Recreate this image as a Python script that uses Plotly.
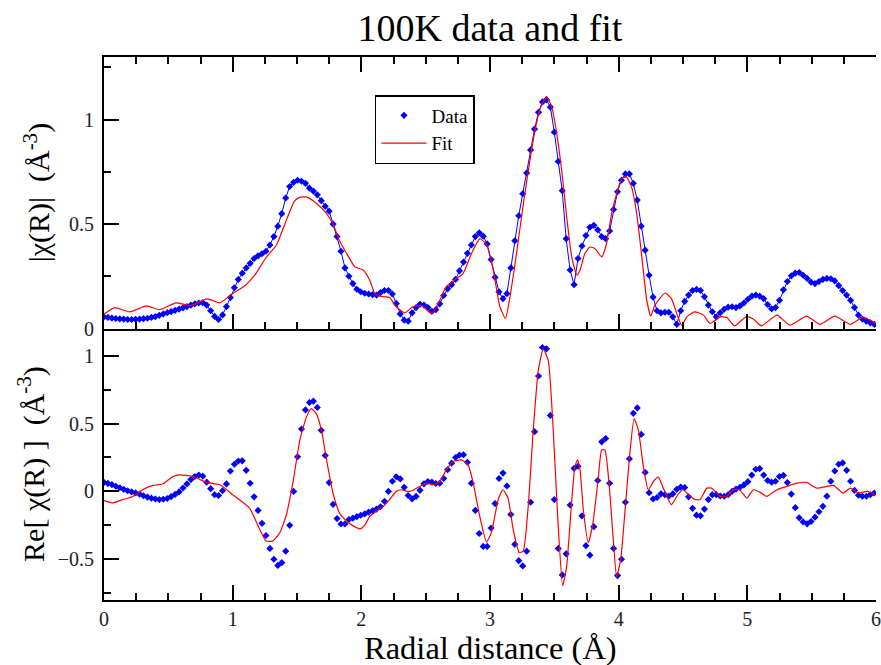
import plotly.graph_objects as go

# ---------------- data ----------------
R_STEP = 0.0307  # radial grid step (Å)

data_mag = [
    0.055, 0.053, 0.050, 0.048, 0.046, 0.045, 0.043, 0.043, 0.044, 0.045,
    0.047, 0.049, 0.053, 0.057, 0.063, 0.070, 0.076, 0.081, 0.087, 0.093,
    0.099, 0.105, 0.112, 0.118, 0.122, 0.124, 0.112, 0.085, 0.058, 0.043,
    0.065, 0.105, 0.148, 0.195, 0.235, 0.265, 0.290, 0.312, 0.335, 0.348,
    0.358, 0.370, 0.400, 0.440, 0.490, 0.550, 0.625, 0.680, 0.700, 0.710,
    0.705, 0.695, 0.672, 0.658, 0.640, 0.612, 0.585, 0.562, 0.500, 0.440,
    0.370, 0.290, 0.250, 0.215, 0.188, 0.176, 0.169, 0.165, 0.162, 0.160,
    0.172, 0.182, 0.182, 0.165, 0.120, 0.070, 0.040, 0.035, 0.075, 0.100,
    0.116, 0.112, 0.100, 0.082, 0.090, 0.118, 0.158, 0.190, 0.210, 0.235,
    0.276, 0.318, 0.360, 0.400, 0.440, 0.458, 0.442, 0.405, 0.330, 0.245,
    0.175, 0.143, 0.167, 0.290, 0.420, 0.540, 0.645, 0.745, 0.855, 0.955,
    1.035, 1.085, 1.095, 1.060, 0.940, 0.800, 0.660, 0.430, 0.280, 0.210,
    0.335, 0.395, 0.445, 0.485, 0.494, 0.472, 0.440, 0.430, 0.467, 0.570,
    0.655, 0.710, 0.740, 0.740, 0.695, 0.615, 0.490, 0.375, 0.255, 0.150,
    0.085, 0.075, 0.078, 0.078, 0.056, 0.020, 0.085, 0.130, 0.160, 0.182,
    0.187, 0.182, 0.152, 0.112, 0.080, 0.056, 0.075, 0.092, 0.102, 0.104,
    0.100, 0.108, 0.122, 0.140, 0.155, 0.160, 0.155, 0.143, 0.115, 0.094,
    0.100, 0.135, 0.185, 0.225, 0.252, 0.265, 0.268, 0.255, 0.240, 0.222,
    0.215, 0.225, 0.235, 0.240, 0.238, 0.228, 0.205, 0.182, 0.160, 0.135,
    0.100, 0.064, 0.045, 0.035, 0.027, 0.020,
]

data_re = [
    0.066, 0.059, 0.050, 0.038, 0.027, 0.015, 0.005, -0.004, -0.011, -0.020,
    -0.032, -0.042, -0.050, -0.056, -0.060, -0.058, -0.052, -0.038, -0.022, -0.004,
    0.025, 0.055, 0.087, 0.110, 0.120, 0.112, 0.068, 0.020, -0.025, -0.030,
    0.005, 0.055, 0.150, 0.200, 0.224, 0.225, 0.155, 0.060, -0.040, -0.140,
    -0.235, -0.325, -0.420, -0.500, -0.545, -0.525, -0.440, -0.250, 0.000, 0.255,
    0.460, 0.600, 0.655, 0.665, 0.618, 0.450, 0.265, 0.065, -0.095, -0.200,
    -0.240, -0.240, -0.207, -0.197, -0.186, -0.176, -0.166, -0.153, -0.142, -0.130,
    -0.113, -0.073, 0.000, 0.075, 0.108, 0.092, 0.030, -0.030, -0.055, -0.037,
    0.008, 0.056, 0.073, 0.068, 0.058, 0.060, 0.095, 0.160, 0.208, 0.250,
    0.268, 0.270, 0.215, 0.060, -0.140, -0.310, -0.405, -0.405, -0.270, -0.090,
    0.095, 0.135, 0.040, -0.170, -0.390, -0.510, -0.549, -0.440, -0.080, 0.440,
    0.850, 1.060, 1.050, 0.560, -0.060, -0.420, -0.615, -0.460, -0.100, 0.170,
    0.185, -0.180, -0.400, -0.470, -0.260, 0.080, 0.365, 0.390, 0.060, -0.420,
    -0.620, -0.500, -0.080, 0.240, 0.575, 0.615, 0.420, 0.140, -0.010, -0.056,
    -0.045, -0.018, -0.024, -0.035, -0.018, 0.015, 0.032, 0.028, -0.040, -0.125,
    -0.175, -0.180, -0.130, -0.060, -0.024, -0.024, -0.034, -0.036, -0.025, 0.000,
    0.017, 0.030, 0.048, 0.072, 0.120, 0.163, 0.168, 0.120, 0.080, 0.068,
    0.075, 0.110, 0.118, 0.065, -0.020, -0.120, -0.195, -0.225, -0.239, -0.222,
    -0.190, -0.150, -0.110, -0.035, 0.075, 0.150, 0.200, 0.210, 0.155, 0.075,
    0.008, -0.028, -0.036, -0.036, -0.024, -0.012,
]

r_data = [round(i * R_STEP, 4) for i in range(len(data_mag))]

fit_mag_r = [
    0.000, 0.083, 0.200, 0.330, 0.430, 0.560, 0.670, 0.800, 0.900, 1.000,
    1.100, 1.180, 1.260, 1.340, 1.418, 1.480, 1.520, 1.574, 1.650, 1.730,
    1.780, 1.830, 1.885, 1.950, 2.015, 2.066, 2.105, 2.144, 2.220, 2.270,
    2.338, 2.400, 2.468, 2.546, 2.610, 2.660, 2.727, 2.790, 2.857, 2.922,
    2.974, 3.025, 3.077, 3.120, 3.155, 3.206, 3.260, 3.310, 3.360, 3.400,
    3.440, 3.480, 3.517, 3.557, 3.596, 3.635, 3.675, 3.700, 3.738, 3.777,
    3.815, 3.868, 3.906, 3.945, 3.984, 4.024, 4.060, 4.100, 4.140, 4.180,
    4.218, 4.250, 4.280, 4.360, 4.410, 4.460, 4.490, 4.530, 4.590, 4.660,
    4.710, 4.790, 4.840, 4.900, 4.990, 5.040, 5.110, 5.230, 5.330, 5.460,
    5.565, 5.680, 5.800, 5.900, 6.000,
]
fit_mag = [
    0.069, 0.100, 0.080, 0.108, 0.090, 0.123, 0.110, 0.142, 0.123, 0.167,
    0.207, 0.263, 0.340, 0.400, 0.520, 0.610, 0.628, 0.630, 0.600, 0.550,
    0.500, 0.420, 0.360, 0.295, 0.280, 0.230, 0.167, 0.155, 0.148, 0.104,
    0.075, 0.104, 0.110, 0.072, 0.135, 0.200, 0.234, 0.263, 0.360, 0.430,
    0.400, 0.280, 0.104, 0.048, 0.150, 0.360, 0.600, 0.805, 0.980, 1.070,
    1.110, 1.060, 0.940, 0.757, 0.534, 0.343, 0.255, 0.280, 0.360, 0.390,
    0.383, 0.343, 0.407, 0.550, 0.646, 0.718, 0.726, 0.678, 0.550, 0.343,
    0.136, 0.059, 0.110, 0.170, 0.143, 0.056, 0.016, 0.056, 0.080, 0.064,
    0.024, 0.056, 0.053, 0.013, 0.056, 0.048, 0.013, 0.064, 0.016, 0.059,
    0.020, 0.059, 0.020, 0.053, 0.024,
]

fit_re_r = [
    0.000, 0.070, 0.148, 0.225, 0.300, 0.380, 0.460, 0.537, 0.590, 0.690,
    0.796, 0.900, 1.000, 1.130, 1.210, 1.260, 1.310, 1.366, 1.418, 1.470,
    1.522, 1.574, 1.610, 1.650, 1.690, 1.730, 1.780, 1.830, 1.885, 1.940,
    1.990, 2.030, 2.066, 2.118, 2.170, 2.220, 2.270, 2.310, 2.360, 2.400,
    2.455, 2.510, 2.558, 2.610, 2.660, 2.714, 2.780, 2.830, 2.870, 2.920,
    2.973, 3.010, 3.064, 3.100, 3.140, 3.180, 3.227, 3.258, 3.297, 3.336,
    3.375, 3.414, 3.453, 3.490, 3.530, 3.565, 3.596, 3.628, 3.660, 3.680,
    3.700, 3.725, 3.764, 3.800, 3.840, 3.868, 3.893, 3.927, 3.958, 3.984,
    4.016, 4.050, 4.088, 4.120, 4.153, 4.192, 4.230, 4.270, 4.308, 4.347,
    4.410, 4.460, 4.500, 4.550, 4.594, 4.633, 4.685, 4.723, 4.790, 4.840,
    4.890, 4.940, 4.996, 5.047, 5.100, 5.150, 5.230, 5.307, 5.385, 5.460,
    5.540, 5.617, 5.670, 5.745, 5.800, 5.864, 5.930, 5.990,
]
fit_re = [
    -0.068, -0.085, -0.060, -0.037, 0.012, 0.044, 0.056, 0.110, 0.122, 0.110,
    0.066, 0.049, -0.024, -0.122, -0.280, -0.366, -0.366, -0.305, -0.170, 0.075,
    0.378, 0.549, 0.610, 0.573, 0.450, 0.230, -0.012, -0.158, -0.220, -0.256,
    -0.276, -0.244, -0.183, -0.146, -0.110, -0.060, 0.000, 0.012, 0.000, 0.007,
    0.037, 0.061, 0.049, 0.073, 0.158, 0.220, 0.232, 0.195, 0.061, -0.183,
    -0.373, -0.305, -0.060, 0.012, -0.049, -0.280, -0.450, -0.440, -0.110, 0.450,
    0.890, 1.050, 0.963, 0.476, -0.256, -0.695, -0.550, -0.158, 0.183, 0.232,
    0.158, -0.134, -0.378, -0.232, 0.085, 0.305, 0.305, 0.037, -0.354, -0.627,
    -0.500, -0.134, 0.293, 0.537, 0.451, 0.183, 0.012, 0.073, 0.105, 0.024,
    -0.098, -0.024, 0.012, -0.032, -0.060, -0.060, 0.024, 0.024, -0.037, -0.037,
    0.012, 0.012, -0.049, 0.012, -0.007, -0.037, 0.012, 0.037, 0.061, 0.066,
    0.024, 0.037, 0.044, -0.012, 0.024, -0.012, 0.000, -0.024,
]

# ---------------- styling ----------------
SERIF = "Liberation Serif, Times New Roman, serif"
BLUE = "#0000ff"
RED = "#ff0000"
NBSP = "\u00a0"

fig = go.Figure()

fig.add_trace(go.Scatter(
    x=r_data, y=data_mag, mode="lines+markers", name="Data",
    line=dict(color=BLUE, width=1),
    marker=dict(symbol="diamond", size=5.5, color=BLUE),
    xaxis="x", yaxis="y", showlegend=False,
))
fig.add_trace(go.Scatter(
    x=fit_mag_r, y=fit_mag, mode="lines", name="Fit",
    line=dict(color=RED, width=1.2, shape="spline", smoothing=0.5),
    xaxis="x", yaxis="y", showlegend=True,
))
fig.add_trace(go.Scatter(
    x=r_data, y=data_re, mode="markers", name="Data",
    marker=dict(symbol="diamond", size=5.5, color=BLUE),
    xaxis="x2", yaxis="y2", showlegend=False,
))
fig.add_trace(go.Scatter(
    x=fit_re_r, y=fit_re, mode="lines", name="Fit",
    line=dict(color=RED, width=1.2, shape="spline", smoothing=0.5),
    xaxis="x2", yaxis="y2", showlegend=False,
))
# legend entry for Data (marker only)
fig.add_trace(go.Scatter(
    x=[None], y=[None], mode="markers", name="Data",
    marker=dict(symbol="diamond", size=5.5, color=BLUE),
    xaxis="x", yaxis="y", showlegend=True,
))

tickfont = dict(family=SERIF, size=20, color="#222")
minor_ticks = dict(dtick=0.25, ticks="inside", ticklen=7, tickwidth=1.5,
                   tickcolor="black", showgrid=False)

xcommon = dict(
    range=[0, 6], showline=True, linecolor="black", linewidth=2,
    ticks="inside", ticklen=15, tickwidth=1.5, tickcolor="black",
    dtick=1, tick0=0, showgrid=False, zeroline=False, automargin=False,
    minor=minor_ticks, tickfont=tickfont,
)
ycommon = dict(
    showline=True, linecolor="black", linewidth=2, mirror=False,
    ticks="inside", ticklen=15, tickwidth=1.5, tickcolor="black",
    dtick=0.5, tick0=0, showgrid=False, zeroline=False, automargin=False,
    minor=minor_ticks, tickfont=tickfont, ticklabelstandoff=4,
)
yright = dict(
    showline=True, linecolor="black", linewidth=2, side="right",
    ticks="inside", ticklen=15, tickwidth=1.5, tickcolor="black", automargin=False,
    dtick=0.25, tick0=0, showgrid=False, zeroline=False, showticklabels=False,
)

fig.update_layout(
    template="none",
    width=881, height=665,
    margin=dict(l=104, r=5, t=57, b=65),
    paper_bgcolor="white", plot_bgcolor="white",
    title=dict(text="100K data and fit", xref="paper", x=0.5, xanchor="center",
               y=1 - 28 / 665, yanchor="middle",
               font=dict(family=SERIF, size=38, color="black")),
    # top panel: bottom line + mirrored top frame
    xaxis=dict(**xcommon, mirror="ticks", domain=[0, 1], anchor="y",
               showticklabels=False, matches="x2"),
    # bottom panel: bottom axis with labels
    xaxis2=dict(**xcommon, mirror=False, domain=[0, 1], anchor="y2"),
    # bottom panel: downward ticks at the shared boundary (no extra line)
    xaxis3=dict(range=[0, 6], overlaying="x2", anchor="y2", side="top",
                showline=False, ticks="inside", ticklen=15, tickwidth=1.5,
                tickcolor="black", dtick=1, tick0=0, showgrid=False,
                zeroline=False, showticklabels=False, automargin=False,
                minor=minor_ticks),
    yaxis=dict(**ycommon, domain=[0.5, 1], anchor="x", range=[0, 1.3]),
    yaxis2=dict(**ycommon, domain=[0, 0.5], anchor="x2", range=[-0.8, 1.2]),
    yaxis3=dict(**yright, overlaying="y", anchor="x", range=[0, 1.3]),
    yaxis4=dict(**yright, overlaying="y2", anchor="x2", range=[-0.8, 1.2]),
    legend=dict(
        x=0.351, y=0.930, xanchor="left", yanchor="top",
        bordercolor="black", borderwidth=1.5, bgcolor="white",
        font=dict(family=SERIF, size=19, color="black"),
        itemwidth=45, tracegroupgap=0,
        traceorder="reversed",
    ),
    annotations=[
        dict(text="|χ(R)|" + NBSP * 2 + "(Å<sup>-3</sup>)", textangle=-90,
             xref="paper", yref="paper", x=-0.086, y=0.75,
             xanchor="center", yanchor="middle", showarrow=False,
             font=dict(family=SERIF, size=30, color="black")),
        dict(text="Re[ χ(R) ]" + NBSP * 2 + "(Å<sup>-3</sup>)", textangle=-90,
             xref="paper", yref="paper", x=-0.093, y=0.251,
             xanchor="center", yanchor="middle", showarrow=False,
             font=dict(family=SERIF, size=30, color="black")),
        dict(text="Radial distance (Å)", xref="paper", yref="paper",
             x=0.501, y=-0.088, xanchor="center", yanchor="middle", showarrow=False,
             font=dict(family=SERIF, size=32.5, color="black")),
    ],
)

fig.write_html("out.html")
